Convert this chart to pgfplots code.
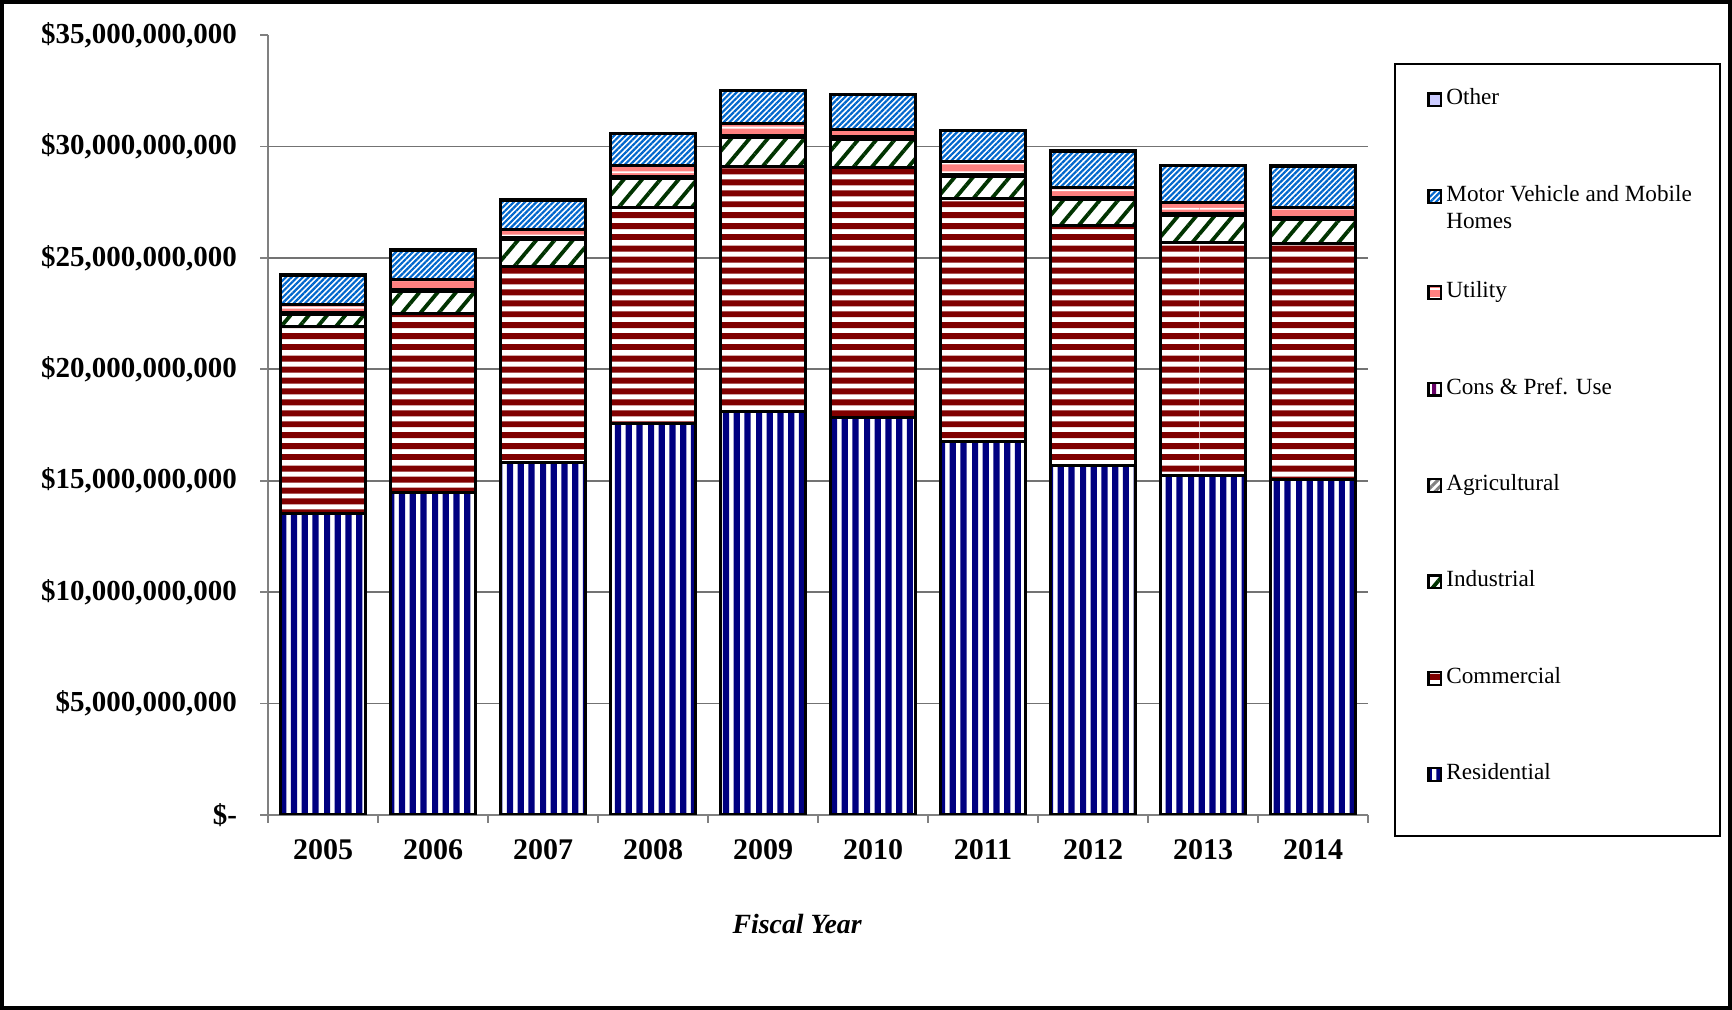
\documentclass[border=0pt]{standalone}
\usepackage{fontspec}
\setmainfont{Liberation Serif}
\usepackage{pgfplots}
\usepackage{pgfplotstable}
\pgfplotsset{compat=1.18}
\usetikzlibrary{patterns,patterns.meta}

\definecolor{resblue}{HTML}{000080}
\definecolor{commaroon}{HTML}{800000}
\definecolor{indgreen}{HTML}{003300}
\definecolor{agrgray}{HTML}{808080}
\definecolor{conspurple}{HTML}{660066}
\definecolor{utilpink}{HTML}{FF8080}
\definecolor{mvblue}{HTML}{0066CC}
\definecolor{othlav}{HTML}{CCCCFF}

% large tiles (several stripes each) to avoid seams
\pgfdeclarepatternformonly{vstripes}{\pgfpointorigin}{\pgfpoint{54pt}{300pt}}{\pgfpoint{54pt}{300pt}}{%
  \foreach \i in {0,...,9}{\pgfpathrectangle{\pgfpoint{\i*5.4pt}{0pt}}{\pgfpoint{3.1pt}{300pt}}}%
  \pgfusepath{fill}}
\pgfdeclarepatternformonly{hstripes}{\pgfpointorigin}{\pgfpoint{300pt}{55pt}}{\pgfpoint{300pt}{55pt}}{%
  \foreach \i in {0,...,9}{\pgfpathrectangle{\pgfpoint{0pt}{\i*5.5pt}}{\pgfpoint{300pt}{3pt}}}%
  \pgfusepath{fill}}
\pgfdeclarepatternformonly{hthin}{\pgfpointorigin}{\pgfpoint{300pt}{45pt}}{\pgfpoint{300pt}{45pt}}{%
  \foreach \i in {0,...,9}{\pgfpathrectangle{\pgfpoint{0pt}{\i*4.5pt}}{\pgfpoint{300pt}{0.9pt}}}%
  \pgfusepath{fill}}
\pgfdeclarepatternformonly{vpurple}{\pgfpointorigin}{\pgfpoint{40pt}{300pt}}{\pgfpoint{40pt}{300pt}}{%
  \foreach \i in {0,...,9}{\pgfpathrectangle{\pgfpoint{\i*4pt}{0pt}}{\pgfpoint{2pt}{300pt}}}%
  \pgfusepath{fill}}

% values in billions of dollars
\pgfplotstableread{
x  res   com   ind   agr   cons  util  mv    oth
0  13.55 8.36  0.56  0.02  0.04  0.38  1.31  0.02
1  14.45 8.06  1.00  0.03  0.05  0.45  1.30  0.02
2  15.82 8.81  1.20  0.03  0.05  0.38  1.29  0.02
3  17.55 9.72  1.30  0.03  0.06  0.48  1.43  0.02
4  18.12 10.96 1.33  0.03  0.06  0.51  1.50  0.02
5  17.82 11.22 1.27  0.04  0.08  0.33  1.57  0.02
6  16.76 10.90 0.98  0.03  0.06  0.61  1.37  0.02
7  15.69 10.76 1.15  0.03  0.06  0.47  1.62  0.02
8  15.24 10.46 1.18  0.03  0.06  0.52  1.65  0.02
9  15.04 10.62 1.07  0.03  0.06  0.46  1.84  0.02
}\datatable

\begin{document}
\begin{tikzpicture}
\begin{axis}[
  at={(134pt,97.5pt)}, anchor=south west,
  scale only axis, width=550pt, height=390pt,
  ybar stacked, bar width=42.5pt,
  xmin=-0.5, xmax=9.5, ymin=0, ymax=35,
  axis x line*=bottom, axis y line*=left,
  axis line style={draw=black!50, line width=0.8pt},
  tick align=outside,
  xtick={0,...,9},
  xticklabels={2005,2006,2007,2008,2009,2010,2011,2012,2013,2014},
  major x tick style={draw=none},
  minor xtick={-0.5,0.5,...,9.5},
  minor x tick style={draw=black!50, line width=0.8pt},
  minor tick length=4pt,
  ytick={0,5,...,35},
  yticklabels={\$-,{\$5,000,000,000},{\$10,000,000,000},{\$15,000,000,000},{\$20,000,000,000},{\$25,000,000,000},{\$30,000,000,000},{\$35,000,000,000}},
  major tick length=4pt,
  y tick style={draw=black!50, line width=0.8pt},
  extra y ticks={5,10,15,20,25,30},
  extra y tick labels={},
  extra y tick style={grid=major, major tick length=0pt, major grid style={draw=black!55, line width=0.8pt}},
  yticklabel style={font=\fontsize{14.5}{16}\selectfont\bfseries, anchor=east, inner sep=0pt, xshift=-11.3pt},
  xticklabel style={font=\fontsize{15}{17}\selectfont\bfseries, anchor=north, inner sep=0pt, yshift=-8pt},
  xlabel={Fiscal Year},
  xlabel style={font=\fontsize{13.9}{16}\selectfont\bfseries\itshape, at={(axis description cs:0.481,-0.14)}, anchor=center},
  reverse legend,
  legend image code/.code={\draw[#1, line width=1.1pt] (0pt,-3.2pt) rectangle (6.4pt,3.2pt);},
  legend cell align=left,
  legend style={draw=none, fill=none, inner sep=0pt, row sep=35.2pt, column sep=1pt,
    font=\fontsize{11.6}{13.5}\selectfont,
    nodes={inner sep=1pt, text height=8pt, text depth=3pt},
    at={(axis description cs:1.0536,0.9341)}, anchor=north west},
  every axis plot/.append style={draw=black, line width=1.5pt},
]
\addplot[fill=white, postaction={pattern=vstripes, pattern color=resblue}] table[x=x,y=res]{\datatable};
\addlegendentry{Residential}
\addplot[fill=white, postaction={pattern=hstripes, pattern color=commaroon}] table[x=x,y=com]{\datatable};
\addlegendentry{Commercial}
\addplot[fill=white, postaction={pattern={Lines[angle=50,distance=7pt,line width=1.9pt]}, pattern color=indgreen}] table[x=x,y=ind]{\datatable};
\addlegendentry{Industrial}
\addplot[fill=white, postaction={pattern={Lines[angle=45,distance=3pt,line width=1.5pt]}, pattern color=agrgray}] table[x=x,y=agr]{\datatable};
\addlegendentry{Agricultural}
\addplot[fill=white, postaction={pattern=vpurple, pattern color=conspurple}] table[x=x,y=cons]{\datatable};
\addlegendentry{Cons \& Pref. Use}
\addplot[fill=utilpink, postaction={pattern=hthin, pattern color=white}] table[x=x,y=util]{\datatable};
\addlegendentry{Utility}
\addplot[fill=white, postaction={pattern={Lines[angle=45,distance=2pt,line width=1.1pt]}, pattern color=mvblue}] table[x=x,y=mv]{\datatable};
\addlegendentry{\raisebox{0pt}[\height][0pt]{\begin{tabular}[t]{@{}l@{}}Motor Vehicle and Mobile\\Homes\end{tabular}}}
\addplot[fill=othlav] table[x=x,y=oth]{\datatable};
\addlegendentry{Other}
\end{axis}
\draw[line width=2pt] (1pt,1pt) rectangle (865pt,504pt);
\draw[line width=1pt] (697.5pt,87pt) rectangle (860pt,473pt);
\end{tikzpicture}
\end{document}
